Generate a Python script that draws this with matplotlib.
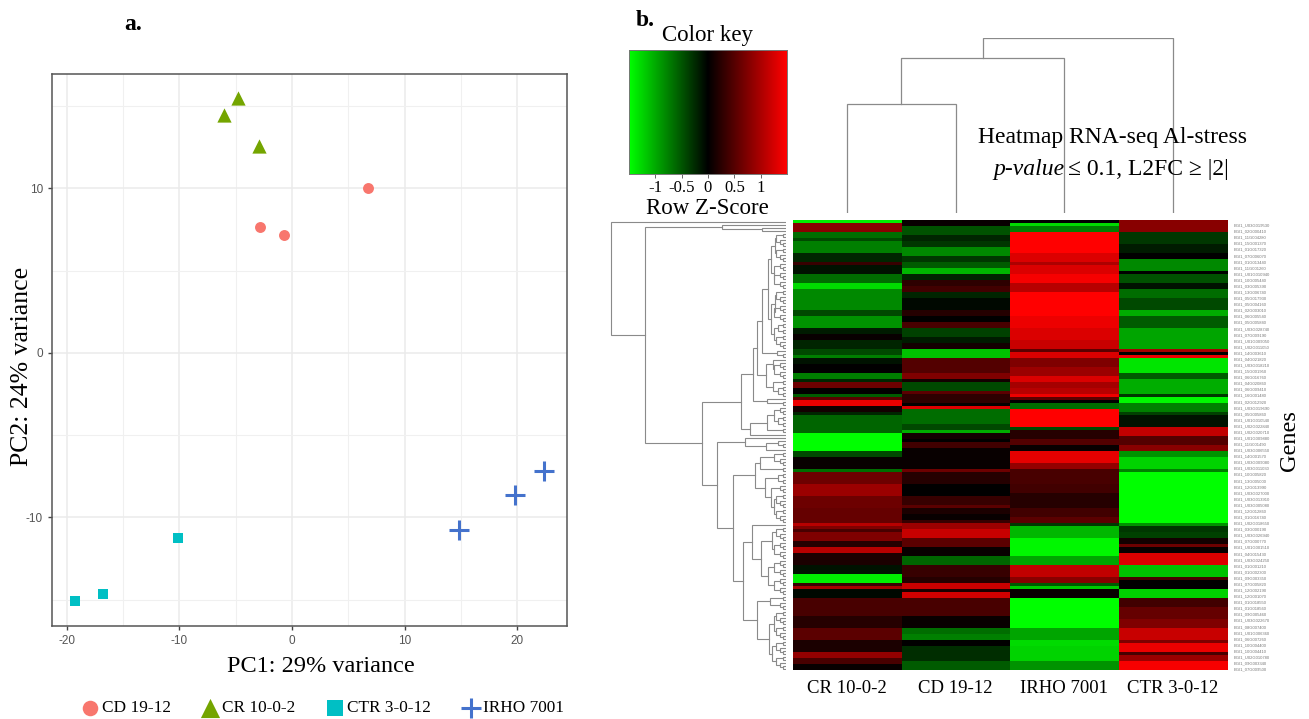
import numpy as np
import matplotlib
matplotlib.use("Agg")
import matplotlib.pyplot as plt
from matplotlib.colors import LinearSegmentedColormap

W, H = 1309, 719

# PCA scores
cd_x = [6.76, -2.85, -0.7]
cd_y = [10.0, 7.66, 7.17]
cr_x = [-4.8, -6.05, -2.93]
cr_y = [15.5, 14.47, 12.58]
ctr_x = [-10.13, -19.3, -16.8]
ctr_y = [-11.25, -15.08, -14.65]
irho_x = [14.84, 19.82, 22.4]
irho_y = [-10.76, -8.63, -7.17]

# heatmap columns, value and number of rows it lasts (150 rows in total)
col_names = ["CR 10-0-2", "CD 19-12", "IRHO 7001", "CTR 3-0-12"]
cr_vals = [-1.3, .75, -.6, -.4, -.7, -.2, .3, -.1, -.6, -1.2, -.75, -.4, -.8, -.15, .05, -.2, -.4, -.7,
           -.1, 0, -.7, -.2, .6, 0, -.5, .5, 1.3, .1, -.2, -.55, -1.4, -.4, .05, -.6, .6, .85, .6, .55,
           1.0, .7, .4, .7, .2, 1.0, .15, -.1, -1.3, .3, .9, -.05, .4, .2, .5, .15, .8, .4, .05]
cr_runs = [1, 3, 2, 1, 4, 3, 1, 3, 3, 2, 7, 2, 4, 2, 2, 3, 2, 1,
           2, 3, 2, 1, 2, 2, 1, 1, 2, 2, 1, 6, 6, 2, 4, 1, 4, 4, 4, 5,
           1, 1, 1, 3, 2, 2, 4, 3, 3, 1, 1, 3, 6, 4, 4, 4, 2, 2, 2]
cd_vals = [.05, -.45, -.2, -.3, -.75, -.3, -.5, -1.0, -.2, .25, .35, -.2, -.05, .2, 0, .4, -.35, -.15, .1,
           -1.05, .45, .7, .1, -.4, .5, .25, 0, 1.2, -.6, -.4, -.95, .1, 0, .35, .05, .6, .2, 0, .3, .5,
           .15, .05, .3, .85, 1.1, .5, .05, -.55, .3, .2, 1.1, .15, 1.15, .4, .05, -.6, -.7, 0, -.25, -.5]
cd_runs = [2, 3, 2, 2, 3, 2, 2, 2, 2, 2, 2, 2, 4, 2, 2, 2, 3, 2, 2,
           3, 5, 2, 1, 3, 1, 3, 1, 1, 5, 2, 1, 2, 1, 2, 7, 1, 4, 4, 3, 1,
           2, 2, 1, 2, 3, 3, 3, 3, 4, 2, 2, 1, 2, 6, 4, 2, 2, 2, 5, 3]
irho_vals = [0, -1.2, -.7, 1.4, 1.2, .95, 1.2, 1.35, 1.0, 1.4, 1.3, 1.2, 1.1, .5, 1.2, .7, .85, 1.2, .9, 1.0,
             1.3, .5, 0, -.6, 1.4, -.4, .2, .45, .05, 1.25, .8, .4, .35, .2, .35, .5, -.3, -1.0, -1.35, -.9,
             1.05, .75, -.5, -1.1, .05, -1.4, -.9, -1.2, -1.15, -.8]
irho_runs = [1, 1, 2, 7, 3, 1, 3, 3, 3, 8, 4, 4, 3, 1, 2, 3, 3, 2, 2, 2,
             1, 1, 1, 2, 6, 1, 3, 2, 2, 4, 2, 5, 3, 5, 3, 2, 1, 4, 6, 3,
             4, 2, 1, 1, 3, 10, 4, 2, 5, 3]
ctr_vals = [.75, -.3, -.15, 0, -.75, 0, -.45, -.1, -.6, -.4, -.95, -.5, -.9, .9, 0, 1.3, -1.25, -.5, -.95, -.3,
            -1.35, -.7, -.35, -.1, 1.05, .45, .75, -.8, -1.15, -.7, -1.4, -.8, -.3, -.35, .1, .6, .05, 1.2,
            -1.05, .4, 0, -1.15, .35, .55, .7, 1.1, .7, 1.3, .4, .85, 1.35]
ctr_runs = [4, 4, 3, 2, 4, 1, 3, 2, 3, 4, 2, 4, 7, 1, 1, 1, 5, 2, 5, 1,
            2, 3, 1, 4, 3, 3, 2, 2, 4, 1, 17, 1, 2, 2, 2, 1, 2, 4,
            4, 1, 3, 3, 3, 4, 3, 4, 1, 3, 1, 2, 3]

gene_ids = ["U03G019530", "02G000410", "11G004280", "15G001370", "01G017320", "07G006070", "01G013440",
            "11G001260", "U01G010940", "10G005440", "03G005390", "13G006740", "05G017930", "05G004160",
            "02G003010", "06G005540", "05G005840", "U03G028740", "07G009190", "U01G009050", "U02G011050",
            "14G003610", "04G021820", "U03G018210", "15G001950", "06G016760", "04G020860", "06G009410",
            "16G001480", "02G012920", "U03G019690", "05G005860", "U01G010540", "U02G022840", "U02G020710",
            "U01G009880", "11G001490", "U03G006550", "14G001570", "U03G009080", "U03G011030", "10G005820",
            "13G005000", "12G013990", "U03G027000", "U03G013910", "U03G005080", "12G012860", "01G016740",
            "U02G018650", "03G000190", "U03G026940", "07G000770", "U01G001510", "04G015430", "U03G024250",
            "01G001210", "01G002300", "09G003350", "07G005820", "12G002190", "12G001070", "01G018550",
            "01G018560", "09G005460", "U03G022670", "08G007400", "U01G006360", "06G007260", "10G004400",
            "10G004410", "U02G010780", "09G003340", "07G009500"]

# dendrograms as nested (height, upper, lower), 1 is a single leaf
p = (3, 1, 1)
t = (6, 1, p)
q = (8, p, p)
s5 = (10, p, t)
s6 = (12, t, t)
row_c1 = (33, (29, (24, (18, (15, (11, s5, s5), (12, t, s6)), (15, (11, s5, s6), (12, q, s5))), (9, 1, p)),
               (20, (13, 1, s6), (13, p, q))), (19, 1, p))
row_c2 = (36, (19, (12, t, q), p), 1)
row_d1 = (41, 1, (20, (8, 1, p), 1))
row_d2a = (31, (26, (12, p, t), p), (21, q, (15, t, (12, s5, s5))))
row_d2b = (34, 1, (25, (14, s5, s6), (18, s6, s6)))
row_d2c = (29, (16, p, t), (17, (12, s5, s5), (14, s5, s5)))
row_tree = (175, 1, (141, (64, 1, (24, 1, 1)),
                     (84, (45, row_c1, row_c2), (69, row_d1, (53, row_d2a, (43, row_d2b, row_d2c))))))
col_tree = (175, (155, (109, 1, 1), 1), 1)

serif = "Liberation Serif"
sans = "Liberation Sans"
plt.rcParams["font.family"] = [serif, "DejaVu Sans"]
plt.rcParams["axes.unicode_minus"] = False
green_black_red = LinearSegmentedColormap.from_list("gbr", ["#00ff00", "#000000", "#ff0000"])


def px_axes(fig, left, top, right, bottom):
    return fig.add_axes([left / W, 1 - bottom / H, (right - left) / W, (bottom - top) / H])


def px_text(fig, x, y, s, **kw):
    kw.setdefault("ha", "center")
    kw.setdefault("va", "center")
    fig.text(x / W, 1 - y / H, s, **kw)


def walk_tree(node, start, segs):
    if node == 1:
        return start + 0.5, 0, start + 1
    h, upper, lower = node
    c1, h1, nxt = walk_tree(upper, start, segs)
    c2, h2, nxt = walk_tree(lower, nxt, segs)
    segs.append(([h1, h, h, h2], [c1, c1, c2, c2]))
    return (c1 + c2) / 2, h, nxt


fig = plt.figure(figsize=(W / 100, H / 100), dpi=100)

# a. PCA
ax = px_axes(fig, 52, 74, 567, 626)
ax.scatter(cd_x, cd_y, s=62, c="#F8766D", marker="o", label="CD 19-12", zorder=3, linewidths=0)
ax.scatter(cr_x, cr_y, s=105, c="#74A500", marker="^", label="CR 10-0-2", zorder=3, linewidths=0)
ax.scatter(ctr_x, ctr_y, s=62, c="#00BFC4", marker="s", label="CTR 3-0-12", zorder=3, linewidths=0)
ax.scatter(irho_x, irho_y, s=190, c="#4472CC", marker="+", label="IRHO 7001", zorder=3, linewidths=2.2)
ax.set_xlim(-21.33, 24.44)
ax.set_ylim(-16.6, 16.96)
ax.set_xticks([-20, -10, 0, 10, 20])
ax.set_yticks([-10, 0, 10])
ax.set_xticks([-15, -5, 5, 15], minor=True)
ax.set_yticks([-15, -5, 5, 15], minor=True)
ax.grid(which="major", color="#ebebeb", lw=1.1)
ax.grid(which="minor", color="#f0f0f0", lw=0.8)
ax.set_axisbelow(True)
ax.tick_params(which="major", length=3, width=1, color="#444444", labelcolor="#555555", labelsize=8.5)
ax.tick_params(which="minor", length=0)
for lab in ax.get_xticklabels() + ax.get_yticklabels():
    lab.set_family(sans)
for sp in ax.spines.values():
    sp.set_color("#555555")
    sp.set_linewidth(1.1)
leg = ax.legend(loc="center left", bbox_to_anchor=(0.023, -0.149), ncol=4, frameon=False, fontsize=12.4,
                handletextpad=-0.3, columnspacing=1.3, borderpad=0)
for handle, size in zip(leg.legend_handles, [125, 190, 125, 210]):
    handle.set_sizes([size])

px_text(fig, 321, 666, "PC1: 29% variance", fontsize=17.5)
px_text(fig, 22, 366, "PC2: 24% variance", fontsize=18.5, rotation=90)
px_text(fig, 133, 25, "a.", fontsize=17, fontweight="bold")
px_text(fig, 645, 21, "b.", fontsize=17, fontweight="bold")

# b. colour key
key = px_axes(fig, 629, 50, 787, 174)
key.imshow(np.linspace(-1.5, 1.5, 256)[None, :], aspect="auto", cmap=green_black_red,
           extent=(-1.5, 1.5, 0, 1), vmin=-1.5, vmax=1.5)
key.set_xticks([-1, -0.5, 0, 0.5, 1])
key.set_xticklabels(["-1", "-0.5", "0", "0.5", "1"])
key.set_yticks([])
key.tick_params(length=3, width=0.7, color="#666666", labelsize=12, pad=1)
for sp in key.spines.values():
    sp.set_color("#777777")
    sp.set_linewidth(0.7)
px_text(fig, 708, 36, "Color key", fontsize=16.5)
px_text(fig, 707, 208, "Row Z-Score", fontsize=16.5)

# b. heatmap
hm = px_axes(fig, 793, 220, 1227, 670)
cols = [np.repeat(cr_vals, cr_runs), np.repeat(cd_vals, cd_runs),
        np.repeat(irho_vals, irho_runs), np.repeat(ctr_vals, ctr_runs)]
matrix = np.column_stack(cols)
hm.imshow(matrix, aspect="auto", cmap=green_black_red, vmin=-1.4, vmax=1.4,
          interpolation="nearest", extent=(0, 4, 150, 0))
hm.set_xticks([0.5, 1.5, 2.5, 3.5])
hm.set_xticklabels(col_names, fontsize=13.5)
hm.yaxis.tick_right()
hm.set_yticks(np.linspace(1.67, 149.67, len(gene_ids)))
hm.set_yticklabels(["BGI1_" + g for g in gene_ids], fontsize=3, color="#777777", family=sans)
hm.tick_params(axis="y", length=0, pad=5)
hm.tick_params(axis="x", length=0, pad=7)
for sp in hm.spines.values():
    sp.set_visible(False)

# b. dendrograms
tree_color = "#8a8a8a"
top = px_axes(fig, 793, 38, 1227, 213)
segs = []
walk_tree(col_tree, 0, segs)
for hs, cs in segs:
    top.plot(cs, hs, color=tree_color, lw=0.9, solid_joinstyle="miter")
top.set_xlim(0, 4)
top.set_ylim(0, 175)
top.axis("off")

side = px_axes(fig, 606, 220, 786, 670)
segs = []
walk_tree(row_tree, 0, segs)
for hs, cs in segs:
    side.plot(hs, cs, color=tree_color, lw=0.8, solid_joinstyle="miter")
side.set_xlim(180, 0)
side.set_ylim(150, 0)
side.axis("off")

px_text(fig, 1112, 138, "Heatmap RNA-seq Al-stress", fontsize=17)
px_text(fig, 1065, 170, "p-value", fontsize=17, style="italic", ha="right")
px_text(fig, 1068, 170, "\u2264 0.1, L2FC \u2265 |2|", fontsize=17, ha="left")
px_text(fig, 1290, 441, "Genes", fontsize=17.5, rotation=90)

fig.savefig("out.png", dpi=100, facecolor="white")
